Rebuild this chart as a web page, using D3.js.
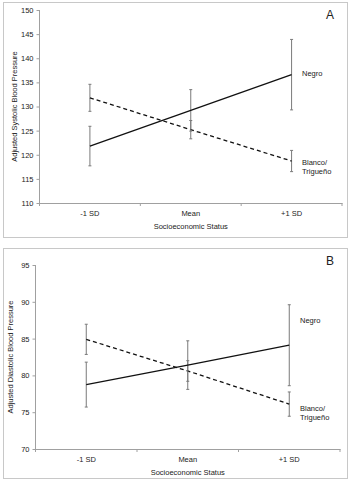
<!DOCTYPE html>
<html>
<head>
<meta charset="utf-8">
<script src="https://cdn.jsdelivr.net/npm/d3@7"></script>
<style>
  body { margin: 0; background: #fff; }
  text { font-family: "Liberation Sans", Arial, sans-serif; fill: #222; }
</style>
</head>
<body>
<div id="chart"></div>
<script>
// categories shared by both panels
var categories = [ "-1 SD", "Mean", "+1 SD" ];

// panel A: systolic
var sysNegro = [ 121.8, 129.2, 136.6 ];
var sysNegroErr = [ 4.1, 4.3, 7.3 ];
var sysBlanco = [ 131.8, 125.2, 118.7 ];
var sysBlancoErr = [ 2.8, 1.9, 2.2 ];
var sysTicks = [ 110, 115, 120, 125, 130, 135, 140, 145, 150 ];

// panel B: diastolic
var diaNegro = [ 78.75, 81.4, 84.1 ];
var diaNegroErr = [ 3.05, 3.3, 5.5 ];
var diaBlanco = [ 84.9, 80.6, 76.1 ];
var diaBlancoErr = [ 2.05, 1.4, 1.65 ];
var diaTicks = [ 70, 75, 80, 85, 90, 95 ];

var width = 350, height = 485;

var svg = d3.select( "#chart" ).append( "svg" )
  .attr( "width", width )
  .attr( "height", height );

function panel( opts ) {

  var g = svg.append( "g" );

  // frame around the panel
  g.append( "rect" )
    .attr( "x", opts.box[ 0 ] + 0.5 )
    .attr( "y", opts.box[ 1 ] + 0.5 )
    .attr( "width", opts.box[ 2 ] )
    .attr( "height", opts.box[ 3 ] )
    .style( "fill", "none" )
    .style( "stroke", "#c8c8c8" )
    .style( "stroke-width", 1 );

  var x = d3.scaleBand()
    .domain( categories )
    .range( [ opts.left, opts.right ] );

  var y = d3.scaleLinear()
    .domain( d3.extent( opts.ticks ) )
    .range( [ opts.bottom, opts.top ] );

  var cx = function( d, i ) { return x( categories[ i ] ) + x.bandwidth() / 2; };

  // y axis
  var yAxis = g.append( "g" )
    .attr( "transform", "translate(" + opts.left + ",0)" )
    .call( d3.axisLeft( y ).tickValues( opts.ticks ).tickSize( 3 ).tickPadding( 3 ) );
  yAxis.select( ".domain" ).attr( "d", "M0," + opts.top + "V" + opts.bottom );

  // x axis, ticks on the band edges
  var xAxis = g.append( "g" )
    .attr( "transform", "translate(0," + opts.bottom + ")" )
    .call( d3.axisBottom( x ).tickSize( 0 ).tickPadding( 8 ) );
  xAxis.selectAll( ".edge" )
    .data( d3.range( categories.length + 1 ) )
    .enter()
    .append( "line" )
      .attr( "class", "edge" )
      .attr( "x1", i => opts.left + i * x.step() )
      .attr( "x2", i => opts.left + i * x.step() )
      .attr( "y1", 0 )
      .attr( "y2", 3 );

  g.selectAll( ".domain, .tick line, .edge" )
    .style( "stroke", "#a0a0a0" )
    .style( "stroke-width", 1 );
  g.selectAll( ".tick text" )
    .style( "font-size", "7.5px" )
    .style( "fill", "#222" )
    .style( "font-family", "'Liberation Sans', Arial, sans-serif" );

  // axis titles
  g.append( "text" )
    .attr( "x", ( opts.left + opts.right ) / 2 )
    .attr( "y", opts.bottom + 26 )
    .attr( "text-anchor", "middle" )
    .style( "font-size", "7.5px" )
    .text( "Socioeconomic Status" );

  g.append( "text" )
    .attr( "transform", "translate(" + ( opts.left - 23 ) + "," + ( ( opts.top + opts.bottom ) / 2 ) + ") rotate(-90)" )
    .attr( "text-anchor", "middle" )
    .style( "font-size", "7.5px" )
    .text( opts.yTitle );

  // panel letter
  g.append( "text" )
    .attr( "x", opts.box[ 0 ] + opts.box[ 2 ] - 13 )
    .attr( "y", opts.box[ 1 ] + 17 )
    .attr( "text-anchor", "end" )
    .style( "font-size", "12px" )
    .text( opts.letter );

  var line = d3.line()
    .x( cx )
    .y( d => y( d ) );

  [ { v: opts.blanco, e: opts.blancoErr, dash: "4,3" },
    { v: opts.negro, e: opts.negroErr, dash: null } ].forEach( function( s ) {

    // error bars
    var eb = g.append( "g" );
    s.v.forEach( function( v, i ) {
      var xx = cx( v, i );
      eb.append( "line" )
        .attr( "x1", xx ).attr( "x2", xx )
        .attr( "y1", y( v - s.e[ i ] ) ).attr( "y2", y( v + s.e[ i ] ) );
      [ v - s.e[ i ], v + s.e[ i ] ].forEach( function( w ) {
        eb.append( "line" )
          .attr( "x1", xx - 1.5 ).attr( "x2", xx + 1.5 )
          .attr( "y1", y( w ) ).attr( "y2", y( w ) );
      } );
    } );
    eb.selectAll( "line" )
      .style( "stroke", "#7a7a7a" )
      .style( "stroke-width", 1 );

    g.append( "path" )
      .datum( s.v )
      .attr( "d", line )
      .style( "fill", "none" )
      .style( "stroke", "#111" )
      .style( "stroke-width", 1.3 )
      .style( "stroke-dasharray", s.dash );
  } );

  // series labels
  var lx = opts.right - 40;
  g.append( "text" )
    .attr( "x", lx )
    .attr( "y", y( opts.negro[ 2 ] ) + opts.negroLabelDy )
    .style( "font-size", "7.5px" )
    .text( "Negro" );

  var bl = g.append( "text" )
    .attr( "x", lx )
    .attr( "y", y( opts.blanco[ 2 ] ) + opts.blancoLabelDy )
    .style( "font-size", "7.5px" );
  bl.append( "tspan" ).attr( "x", lx ).text( "Blanco/" );
  bl.append( "tspan" ).attr( "x", lx ).attr( "dy", 8.5 ).text( "Trigueño" );
}

panel( {
  box: [ 3, 2, 344, 235 ],
  left: 39.5, right: 342, top: 10, bottom: 203,
  ticks: sysTicks,
  negro: sysNegro, negroErr: sysNegroErr,
  blanco: sysBlanco, blancoErr: sysBlancoErr,
  negroLabelDy: 1.5,
  blancoLabelDy: 4,
  yTitle: "Adjusted Systolic Blood Pressure",
  letter: "A"
} );

panel( {
  box: [ 3, 248, 344, 230 ],
  left: 35.5, right: 340, top: 265, bottom: 449,
  ticks: diaTicks,
  negro: diaNegro, negroErr: diaNegroErr,
  blanco: diaBlanco, blancoErr: diaBlancoErr,
  negroLabelDy: -22,
  blancoLabelDy: 7,
  yTitle: "Adjusted Diastolic Blood Pressure",
  letter: "B"
} );
</script>
</body>
</html>
